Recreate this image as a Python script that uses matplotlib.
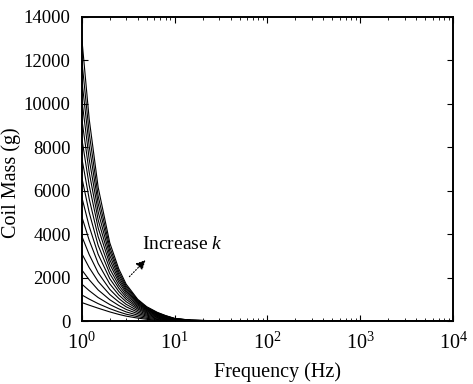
import matplotlib
matplotlib.use("Agg")
import matplotlib.pyplot as plt
import numpy as np

# frequency grid (Hz) shared by every curve
freq = [1, 1.2, 1.5, 2, 2.5, 3, 4, 5, 6.5, 8, 10, 15, 30, 10000]

# coil mass (g) for each k, largest k first
mass_k16 = [13000, 9300, 6150, 3600, 2400, 1700, 1000, 660, 400, 250, 120, 40, 8, 0]
mass_k15 = [12000, 8650, 5750, 3400, 2270, 1620, 960, 630, 380, 240, 115, 38, 7, 0]
mass_k14 = [11100, 8050, 5400, 3220, 2150, 1540, 920, 600, 360, 225, 110, 35, 7, 0]
mass_k13 = [10200, 7450, 5020, 3020, 2030, 1460, 870, 570, 340, 210, 100, 32, 6, 0]
mass_k12 = [9300, 6850, 4650, 2820, 1910, 1380, 830, 540, 320, 200, 95, 30, 6, 0]
mass_k11 = [8400, 6250, 4280, 2620, 1790, 1300, 780, 510, 300, 185, 88, 28, 5, 0]
mass_k10 = [7500, 5620, 3880, 2400, 1650, 1200, 730, 475, 280, 170, 80, 26, 5, 0]
mass_k9 = [6600, 5000, 3480, 2180, 1510, 1100, 670, 440, 260, 155, 72, 24, 4, 0]
mass_k8 = [5700, 4360, 3070, 1950, 1360, 1000, 610, 400, 235, 140, 65, 21, 4, 0]
mass_k7 = [4800, 3720, 2650, 1710, 1200, 890, 550, 360, 210, 125, 58, 19, 3, 0]
mass_k6 = [3900, 3060, 2220, 1460, 1040, 770, 480, 315, 185, 110, 50, 16, 3, 0]
mass_k5 = [3100, 2460, 1820, 1220, 880, 655, 410, 270, 160, 95, 43, 14, 2, 0]
mass_k4 = [2350, 1900, 1430, 980, 715, 535, 340, 225, 130, 78, 35, 11, 2, 0]
mass_k3 = [1700, 1400, 1080, 760, 560, 420, 270, 175, 100, 60, 27, 8, 1, 0]
mass_k2 = [1200, 1010, 800, 570, 420, 315, 200, 125, 70, 40, 18, 5, 1, 0]
mass_k1 = [850, 730, 590, 420, 305, 225, 135, 80, 40, 20, 8, 2, 0, 0]

curves = [mass_k16, mass_k15, mass_k14, mass_k13, mass_k12, mass_k11, mass_k10,
          mass_k9, mass_k8, mass_k7, mass_k6, mass_k5, mass_k4, mass_k3,
          mass_k2, mass_k1]

plt.rcParams["font.family"] = ["Liberation Serif", "DejaVu Serif"]
plt.rcParams["mathtext.fontset"] = "custom"
plt.rcParams["mathtext.rm"] = "Liberation Serif"
plt.rcParams["mathtext.it"] = "Liberation Serif:italic"

fig = plt.figure(figsize=(4.73, 3.84), dpi=100)
ax = fig.add_axes([0.173, 0.164, 0.785, 0.792])

for m in curves:
    ax.plot(freq, m, color="black", linewidth=0.8)

ax.set_xscale("log")
ax.set_xlim(1, 1e4)
ax.set_ylim(0, 14000)
ax.set_yticks(np.arange(0, 14001, 2000))
ax.set_xticks([1, 10, 100, 1000, 10000])
ax.set_xticklabels([r"$10^0$", r"$10^1$", r"$10^2$", r"$10^3$", r"$10^4$"])

ax.tick_params(which="both", direction="in", top=True, right=True)
ax.tick_params(which="major", length=4, labelsize=13.5)
ax.tick_params(axis="x", labelsize=14.5, pad=8)
ax.tick_params(axis="y", pad=8)
ax.tick_params(which="minor", length=2)
for s in ax.spines.values():
    s.set_linewidth(1.4)

ax.set_xlabel("Frequency (Hz)", fontsize=14.5)
ax.set_ylabel("Coil Mass (g)", fontsize=14.5)
ax.xaxis.set_label_coords(0.528, -0.136)
ax.yaxis.set_label_coords(-0.165, 0.454)

# arrow showing the direction of increasing k
ax.annotate("", xy=(5.1, 2900), xytext=(3.1, 1950),
            arrowprops=dict(arrowstyle="-|>", linestyle=":", color="black",
                            linewidth=0.8, mutation_scale=14))
ax.text(4.4, 3500, r"Increase $k$", fontsize=14, va="center", ha="left")

plt.savefig("out.png", dpi=100)
